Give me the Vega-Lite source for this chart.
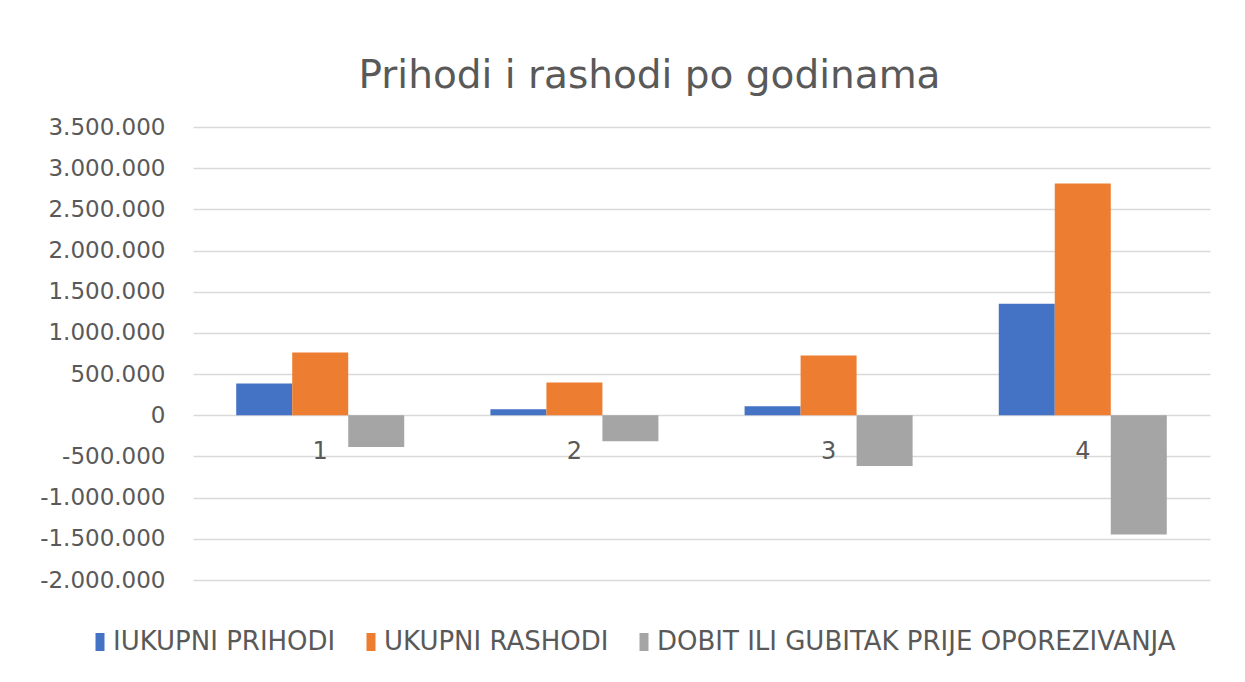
{
  "$schema": "https://vega.github.io/schema/vega-lite/v6.json",
  "width": 1017,
  "height": 453,
  "autosize": {"type": "none"},
  "padding": {"left": 193, "top": 127, "right": 35, "bottom": 102},
  "background": "white",
  "config": {
    "locale": {"number": {"decimal": ",", "thousands": ".", "grouping": [3], "currency": ["", " €"], "minus": "-"}},
    "view": {"stroke": null},
    "font": "DejaVu Sans"
  },
  "title": {
    "text": "Prihodi i rashodi po godinama",
    "fontSize": 39,
    "font": "DejaVu Sans",
    "fontWeight": "normal",
    "color": "#595959",
    "anchor": "middle",
    "frame": "group",
    "dx": -52,
    "offset": 20
  },
  "data": {
    "values": [
      {"godina": "1", "serija": "IUKUPNI PRIHODI", "vrijednost": 386000},
      {"godina": "1", "serija": "UKUPNI RASHODI", "vrijednost": 761000},
      {"godina": "1", "serija": "DOBIT ILI GUBITAK PRIJE OPOREZIVANJA", "vrijednost": -386000},
      {"godina": "2", "serija": "IUKUPNI PRIHODI", "vrijednost": 72000},
      {"godina": "2", "serija": "UKUPNI RASHODI", "vrijednost": 399000},
      {"godina": "2", "serija": "DOBIT ILI GUBITAK PRIJE OPOREZIVANJA", "vrijednost": -314000},
      {"godina": "3", "serija": "IUKUPNI PRIHODI", "vrijednost": 109000},
      {"godina": "3", "serija": "UKUPNI RASHODI", "vrijednost": 725000},
      {"godina": "3", "serija": "DOBIT ILI GUBITAK PRIJE OPOREZIVANJA", "vrijednost": -616000},
      {"godina": "4", "serija": "IUKUPNI PRIHODI", "vrijednost": 1353000},
      {"godina": "4", "serija": "UKUPNI RASHODI", "vrijednost": 2814000},
      {"godina": "4", "serija": "DOBIT ILI GUBITAK PRIJE OPOREZIVANJA", "vrijednost": -1449000}
    ]
  },
  "layer": [
    {
      "mark": {"type": "bar"},
      "encoding": {
        "x": {"field": "godina", "type": "nominal", "axis": null, "scale": {"paddingInner": 0.339, "paddingOuter": 0.17}},
        "xOffset": {"field": "serija", "type": "nominal", "sort": ["IUKUPNI PRIHODI", "UKUPNI RASHODI", "DOBIT ILI GUBITAK PRIJE OPOREZIVANJA"], "scale": {"paddingInner": 0, "paddingOuter": 0}},
        "y": {
          "field": "vrijednost",
          "type": "quantitative",
          "scale": {"domain": [-2000000, 3500000], "nice": false, "zero": false},
          "axis": {
            "values": [-2000000, -1500000, -1000000, -500000, 0, 500000, 1000000, 1500000, 2000000, 2500000, 3000000, 3500000],
            "format": ",d",
            "title": null,
            "grid": true,
            "gridColor": "#d9d9d9",
            "gridWidth": 1.5,
            "domain": false,
            "ticks": false,
            "labelPadding": 28,
            "labelFontSize": 23,
            "labelFont": "DejaVu Sans",
            "labelColor": "#595959"
          }
        },
        "color": {
          "field": "serija",
          "type": "nominal",
          "scale": {
            "domain": ["IUKUPNI PRIHODI", "UKUPNI RASHODI", "DOBIT ILI GUBITAK PRIJE OPOREZIVANJA"],
            "range": ["#4472C4", "#ED7D31", "#A5A5A5"]
          },
          "legend": {
            "orient": "none",
            "legendX": -106,
            "legendY": 502,
            "direction": "horizontal",
            "title": null,
            "labelFontSize": 26,
            "labelFont": "DejaVu Sans",
            "labelColor": "#595959",
            "symbolType": "M-1,-2H1V2H-1Z",
            "symbolSize": 81,
            "symbolStrokeWidth": 0,
            "columnPadding": 22,
            "labelOffset": 0,
            "labelLimit": 700
          }
        }
      }
    },
    {
      "transform": [{"filter": "datum.serija === 'IUKUPNI PRIHODI'"}],
      "mark": {"type": "text", "dy": 37, "fontSize": 24, "font": "DejaVu Sans", "color": "#595959"},
      "encoding": {
        "x": {"field": "godina", "type": "nominal"},
        "y": {"datum": 0},
        "text": {"field": "godina"}
      }
    }
  ]
}
